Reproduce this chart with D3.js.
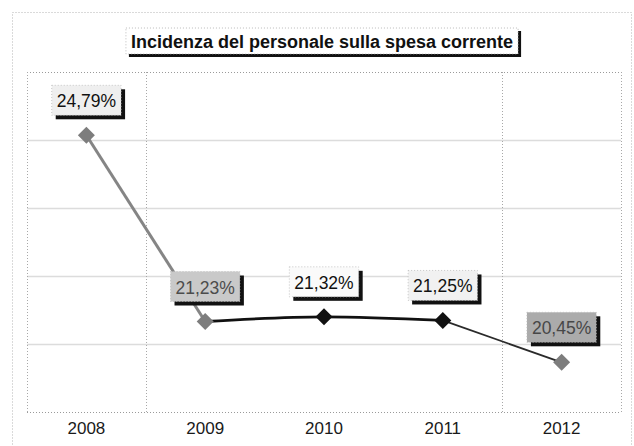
<!DOCTYPE html>
<html>
<head>
<meta charset="utf-8">
<script src="https://cdn.jsdelivr.net/npm/d3@7"></script>
<style>
  html, body { margin: 0; padding: 0; background: #fff; }
  svg { display: block; }
</style>
</head>
<body>
<svg id="chart" width="634" height="446"></svg>
<script>
// Data
const years = ['2008', '2009', '2010', '2011', '2012'];
const values = [24.79, 21.23, 21.32, 21.25, 20.45];
const gridTicks = [19.5, 20.8, 22.1, 23.4, 24.7, 26];
const titleText = 'Incidenza del personale sulla spesa corrente';

// Styling per point (marker and value box)
const markerFill = ['#7d7d7d', '#7d7d7d', '#111', '#111', '#7d7d7d'];
const boxFill = ['#efefef', '#c9c9c9', '#fafafa', '#f1f1f1', '#ababab'];
const boxText = ['#111', '#4c4c4c', '#111', '#111', '#474747'];

const svg = d3.select('#chart');
const plot = { left: 27, right: 621, top: 72, bottom: 412 };

const it = d3.formatLocale({ decimal: ',', thousands: '.', grouping: [3], currency: ['', '€'] });
const fmt = v => it.format('.2f')(v) + '%';

const x = d3.scaleBand().domain(years).range([plot.left, plot.right]);
const cx = d => x(d) + x.bandwidth() / 2;
const y = d3.scaleLinear().domain([19.5, 26]).range([plot.bottom, plot.top]);

// outer chart frame
svg.append('rect')
  .attr('x', 12.5).attr('y', 12.5).attr('width', 619).attr('height', 440)
  .attr('fill', 'none').attr('stroke', '#b5b5b5').attr('stroke-dasharray', '1,2');

// horizontal gridlines
const grid = svg.append('g');
const isEdge = i => i === 0 || i === gridTicks.length - 1;
grid.selectAll('line.h').data(gridTicks).join('line')
  .attr('class', 'h')
  .attr('x1', plot.left).attr('x2', plot.right)
  .attr('y1', d => Math.round(y(d)) + 0.5).attr('y2', d => Math.round(y(d)) + 0.5)
  .attr('stroke', (d, i) => isEdge(i) ? '#9a9a9a' : '#dcdcdc')
  .attr('stroke-width', (d, i) => isEdge(i) ? 1 : 1.6)
  .attr('stroke-dasharray', (d, i) => isEdge(i) ? '1,2' : null);

// vertical gridlines: plot edges and the visible category boundaries
const boundaries = [plot.left, x(years[1]), x(years[4]), plot.right];
grid.selectAll('line.v').data(boundaries).join('line')
  .attr('class', 'v')
  .attr('x1', d => Math.round(d) + 0.5).attr('x2', d => Math.round(d) + 0.5)
  .attr('y1', plot.top).attr('y2', plot.bottom)
  .attr('stroke', '#a8a8a8').attr('stroke-dasharray', '1,2');

const font = 'Liberation Sans, Arial, sans-serif';

// category axis labels
svg.append('g').selectAll('text').data(years).join('text')
  .attr('x', d => cx(d)).attr('y', 434)
  .attr('text-anchor', 'middle')
  .attr('font-family', font)
  .attr('font-size', 17).attr('fill', '#1a1a1a')
  .text(d => d);

// series line, drawn in three parts
const pts = years.map((d, i) => [cx(d), y(values[i])]);
const lines = svg.append('g').attr('fill', 'none').attr('stroke-linejoin', 'round');
lines.append('path')
  .attr('d', d3.line().curve(d3.curveLinear)(pts.slice(0, 2)))
  .attr('stroke', '#858585').attr('stroke-width', 3);
lines.append('path')
  .attr('d', d3.line().curve(d3.curveMonotoneX)(pts.slice(1, 4)))
  .attr('stroke', '#111').attr('stroke-width', 2.8);
lines.append('path')
  .attr('d', d3.line().curve(d3.curveLinear)(pts.slice(3, 5)))
  .attr('stroke', '#2a2a2a').attr('stroke-width', 1.8);

// diamond markers
const r = 8.5;
svg.append('g').selectAll('path').data(years).join('path')
  .attr('transform', (d, i) => `translate(${cx(d)},${y(values[i])})`)
  .attr('d', `M0,${-r}L${r},0L0,${r}L${-r},0Z`)
  .attr('fill', (d, i) => markerFill[i]);

// value boxes with drop shadow
const labels = svg.append('g');
years.forEach((d, i) => {
  const px = cx(d), base = y(values[i]) - 28;
  const g = labels.append('g');
  const t = g.append('text')
    .attr('x', px).attr('y', base)
    .attr('text-anchor', 'middle')
    .attr('font-family', font).attr('font-size', 17.5)
    .attr('fill', boxText[i])
    .text(fmt(values[i]));
  const bw = t.node().getComputedTextLength() + 10;
  const bx = px - bw / 2, by = base - 22, bh = 30;
  g.insert('rect', 'text')
    .attr('x', bx + 4).attr('y', by + 4).attr('width', bw).attr('height', bh)
    .attr('fill', '#111');
  g.insert('rect', 'text')
    .attr('x', bx).attr('y', by).attr('width', bw).attr('height', bh)
    .attr('fill', boxFill[i]).attr('stroke', '#bbb').attr('stroke-width', 0.8)
    .attr('stroke-dasharray', '1,2');
});

// title box
const tg = svg.append('g');
const tt = tg.append('text')
  .attr('x', 322).attr('y', 48)
  .attr('text-anchor', 'middle')
  .attr('font-family', font).attr('font-weight', 'bold').attr('font-size', 18)
  .attr('fill', '#111')
  .text(titleText);
const tw = tt.node().getComputedTextLength() + 10;
const tx = 322 - tw / 2;
tg.insert('rect', 'text')
  .attr('x', tx + 3).attr('y', 31).attr('width', tw).attr('height', 26)
  .attr('fill', '#111');
tg.insert('rect', 'text')
  .attr('x', tx).attr('y', 28).attr('width', tw).attr('height', 26)
  .attr('fill', '#fff').attr('stroke', '#aaa').attr('stroke-width', 0.8)
  .attr('stroke-dasharray', '1,2');
</script>
</body>
</html>
